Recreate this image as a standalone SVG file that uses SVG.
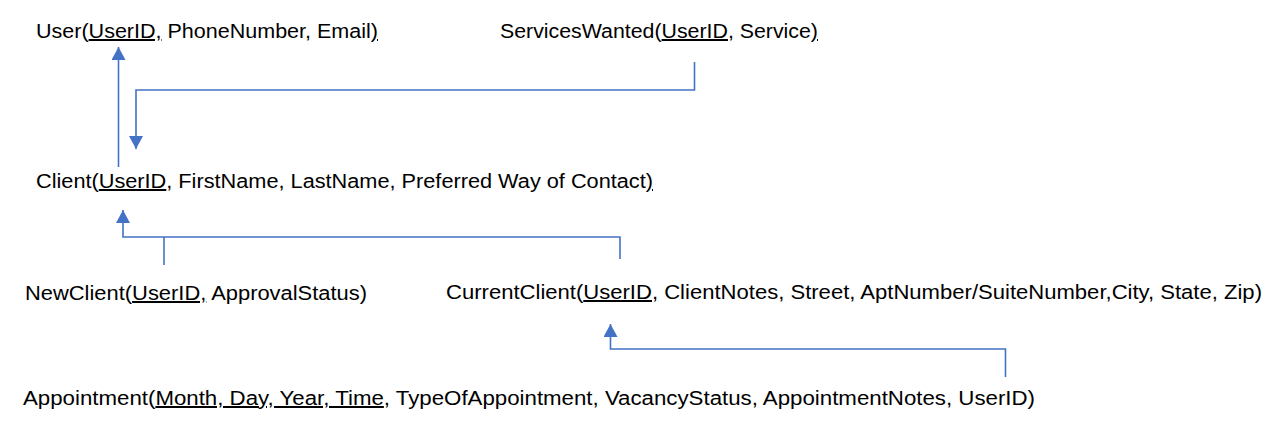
<svg xmlns="http://www.w3.org/2000/svg" width="1285" height="434" viewBox="0 0 1285 434">
<style>
.t{font-family:"Liberation Sans",Arial,sans-serif;font-size:20px;fill:#000}
.u{text-decoration:underline}
.c{fill:none;stroke:#4472C4;stroke-width:1.6}
</style>
<defs>
<marker id="ah" markerUnits="userSpaceOnUse" markerWidth="13" markerHeight="14" refX="13" refY="7" orient="auto">
<path d="M0,0 L13,7 L0,14 z" fill="#4472C4"/>
</marker>
</defs>
<rect width="1285" height="434" fill="#fff"/>
<g id="connectors">
<path class="c" d="M118.5 167 V47" stroke-width="2" marker-end="url(#ah)"/>
<path class="c" d="M694.5 62 V90 H136 V149" marker-end="url(#ah)"/>
<path class="c" d="M620 259 V237 H123 V210" marker-end="url(#ah)"/>
<path class="c" d="M164 265 V237"/>
<path class="c" d="M1005.5 377 V349 H610.5 V324" marker-end="url(#ah)"/>
</g>
<g id="user"><text class="t" x="36" y="38" textLength="342" lengthAdjust="spacingAndGlyphs">User(<tspan class="u">UserID,</tspan> PhoneNumber, Email<tspan class="u">)</tspan></text></g>
<g id="serviceswanted"><text class="t" x="500" y="38" textLength="318" lengthAdjust="spacingAndGlyphs">ServicesWanted(<tspan class="u">UserID,</tspan> Service<tspan class="u">)</tspan></text></g>
<g id="client"><text class="t" x="36" y="188" textLength="617" lengthAdjust="spacingAndGlyphs">Client(<tspan class="u">UserID</tspan>, FirstName, LastName, Preferred Way of Contact<tspan class="u">)</tspan></text></g>
<g id="newclient"><text class="t" x="25" y="300" textLength="342" lengthAdjust="spacingAndGlyphs">NewClient(<tspan class="u">UserID,</tspan> ApprovalStatus)</text></g>
<g id="currentclient"><text class="t" x="446" y="299" textLength="816" lengthAdjust="spacingAndGlyphs">CurrentClient(<tspan class="u">UserID,</tspan> ClientNotes, Street, AptNumber/SuiteNumber,City, State, Zip)</text></g>
<g id="appointment"><text class="t" x="23" y="405" textLength="1012" lengthAdjust="spacingAndGlyphs">Appointment(<tspan class="u">Month, Day, Year, Time</tspan>, TypeOfAppointment, VacancyStatus, AppointmentNotes, UserID)</text></g>
</svg>
